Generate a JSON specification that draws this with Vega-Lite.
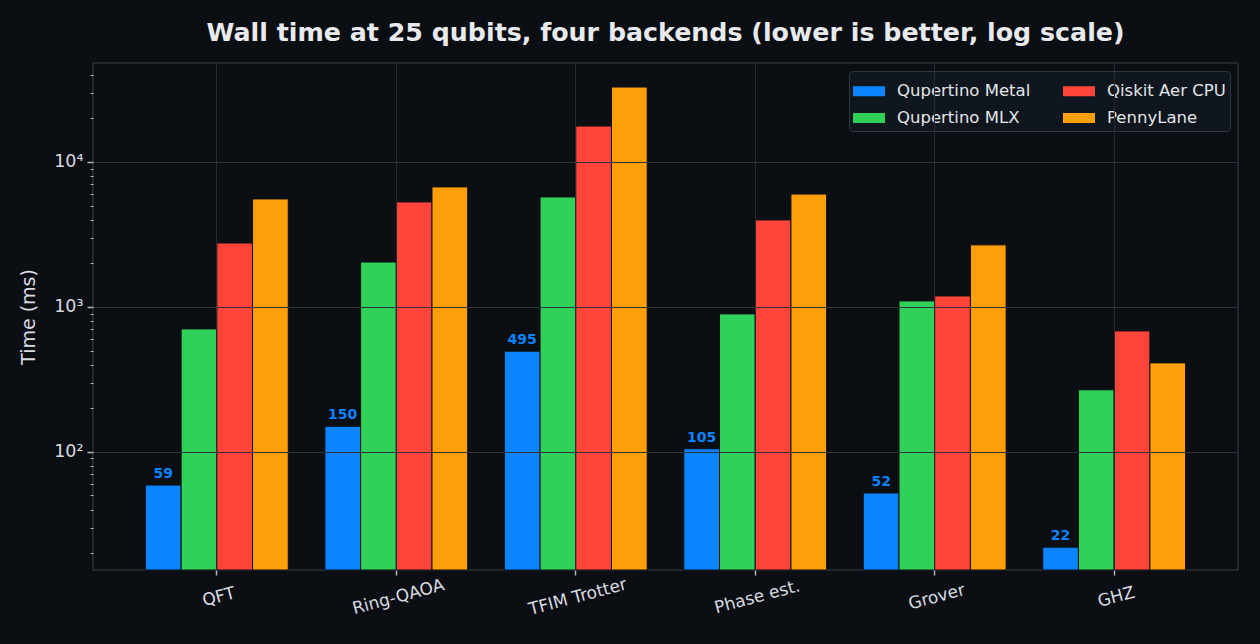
{
  "$schema": "https://vega.github.io/schema/vega-lite/v6.json",
  "width": 1145,
  "height": 507,
  "autosize": {"type": "none"},
  "padding": {"left": 93, "top": 63, "right": 22, "bottom": 74},
  "background": "#0b0e13",
  "title": {
    "text": "Wall time at 25 qubits, four backends (lower is better, log scale)",
    "font": "DejaVu Sans",
    "fontSize": 25.3,
    "fontWeight": "bold",
    "color": "#e8eaed",
    "offset": 17,
    "anchor": "middle"
  },
  "config": {
    "view": {"stroke": "#2a3038", "strokeWidth": 1.5, "fill": "#0b0e13"},
    "font": "DejaVu Sans"
  },
  "data": {
    "values": [
      {"circuit": "QFT", "backend": "Qupertino Metal", "ms": 59},
      {"circuit": "QFT", "backend": "Qupertino MLX", "ms": 705},
      {"circuit": "QFT", "backend": "Qiskit Aer CPU", "ms": 2760},
      {"circuit": "QFT", "backend": "PennyLane", "ms": 5560},
      {"circuit": "Ring-QAOA", "backend": "Qupertino Metal", "ms": 150},
      {"circuit": "Ring-QAOA", "backend": "Qupertino MLX", "ms": 2040},
      {"circuit": "Ring-QAOA", "backend": "Qiskit Aer CPU", "ms": 5300},
      {"circuit": "Ring-QAOA", "backend": "PennyLane", "ms": 6730},
      {"circuit": "TFIM Trotter", "backend": "Qupertino Metal", "ms": 495},
      {"circuit": "TFIM Trotter", "backend": "Qupertino MLX", "ms": 5740},
      {"circuit": "TFIM Trotter", "backend": "Qiskit Aer CPU", "ms": 17700},
      {"circuit": "TFIM Trotter", "backend": "PennyLane", "ms": 32900},
      {"circuit": "Phase est.", "backend": "Qupertino Metal", "ms": 105},
      {"circuit": "Phase est.", "backend": "Qupertino MLX", "ms": 895},
      {"circuit": "Phase est.", "backend": "Qiskit Aer CPU", "ms": 3980},
      {"circuit": "Phase est.", "backend": "PennyLane", "ms": 6010},
      {"circuit": "Grover", "backend": "Qupertino Metal", "ms": 52},
      {"circuit": "Grover", "backend": "Qupertino MLX", "ms": 1100},
      {"circuit": "Grover", "backend": "Qiskit Aer CPU", "ms": 1190},
      {"circuit": "Grover", "backend": "PennyLane", "ms": 2680},
      {"circuit": "GHZ", "backend": "Qupertino Metal", "ms": 22},
      {"circuit": "GHZ", "backend": "Qupertino MLX", "ms": 268},
      {"circuit": "GHZ", "backend": "Qiskit Aer CPU", "ms": 683},
      {"circuit": "GHZ", "backend": "PennyLane", "ms": 411}
    ]
  },
  "encoding": {
    "x": {
      "field": "circuit",
      "type": "nominal",
      "sort": ["QFT", "Ring-QAOA", "TFIM Trotter", "Phase est.", "Grover", "GHZ"],
      "scale": {"paddingInner": 0.204, "paddingOuter": 0.292},
      "axis": {
        "title": null,
        "labelAngle": -15,
        "labelAlign": "center",
        "labelBaseline": "top",
        "labelFontSize": 17,
        "labelColor": "#d8dbe0",
        "labelPadding": 14,
        "tickColor": "#b0b4ba",
        "tickSize": 5,
        "tickWidth": 1.5,
        "domain": false,
        "grid": true,
        "gridColor": "#262b33",
        "gridWidth": 1,
        "bandPosition": 0.5,
        "zindex": 1
      }
    },
    "xOffset": {
      "field": "backend",
      "type": "nominal",
      "sort": ["Qupertino Metal", "Qupertino MLX", "Qiskit Aer CPU", "PennyLane"],
      "scale": {"paddingInner": 0, "paddingOuter": 0}
    },
    "y": {
      "field": "ms",
      "type": "quantitative",
      "scale": {"type": "log", "domain": [15.3, 48200], "nice": false},
      "axis": {
        "title": "Time (ms)",
        "titleFontSize": 19,
        "titleFontWeight": "normal",
        "titleColor": "#d8dbe0",
        "titlePadding": 15,
        "values": [20, 30, 40, 50, 60, 70, 80, 90, 100, 200, 300, 400, 500, 600, 700, 800, 900, 1000, 2000, 3000, 4000, 5000, 6000, 7000, 8000, 9000, 10000, 20000, 30000, 40000],
        "labelExpr": "datum.value == 100 ? '10²' : datum.value == 1000 ? '10³' : datum.value == 10000 ? '10⁴' : ''",
        "labelFontSize": 17.5,
        "labelColor": "#d8dbe0",
        "labelPadding": 4,
        "labelOverlap": false,
        "tickColor": "#b0b4ba",
        "tickSize": {"condition": {"test": "datum.value == 100 || datum.value == 1000 || datum.value == 10000", "value": 6}, "value": 3},
        "tickWidth": {"condition": {"test": "datum.value == 100 || datum.value == 1000 || datum.value == 10000", "value": 1.5}, "value": 1},
        "domain": false,
        "grid": true,
        "gridColor": "#2c313a",
        "gridOpacity": {"condition": {"test": "datum.value == 100 || datum.value == 1000 || datum.value == 10000", "value": 1}, "value": 0},
        "gridWidth": 1,
        "zindex": 1
      }
    }
  },
  "layer": [
    {
      "mark": {"type": "bar", "stroke": "#0b0e13", "strokeWidth": 1},
      "encoding": {
        "y2": {"datum": 15.3},
        "color": {
          "field": "backend",
          "type": "nominal",
          "scale": {
            "domain": ["Qupertino Metal", "Qupertino MLX", "Qiskit Aer CPU", "PennyLane"],
            "range": ["#0a84ff", "#30d158", "#ff453a", "#ff9f0a"]
          },
          "legend": {
            "title": null,
            "orient": "top-right",
            "offset": 8,
            "columns": 2,
            "columnPadding": 32,
            "rowPadding": 2,
            "symbolType": "M-1,-0.3125H1V0.3125H-1Z",
            "symbolSize": 1024,
            "symbolStrokeWidth": 0,
            "symbolOpacity": 1,
            "labelFontSize": 16.5,
            "labelColor": "#e3e5e8",
            "labelOffset": 12,
            "labelLimit": 300,
            "fillColor": "#10161d",
            "strokeColor": "#2e3640",
            "cornerRadius": 4,
            "padding": 4
          }
        }
      }
    },
    {
      "transform": [{"filter": "datum.backend == 'Qupertino Metal'"}],
      "mark": {"type": "text", "baseline": "bottom", "dy": -4, "fontSize": 14, "fontWeight": "bold", "color": "#0a84ff"},
      "encoding": {"text": {"field": "ms", "type": "quantitative"}}
    }
  ]
}
